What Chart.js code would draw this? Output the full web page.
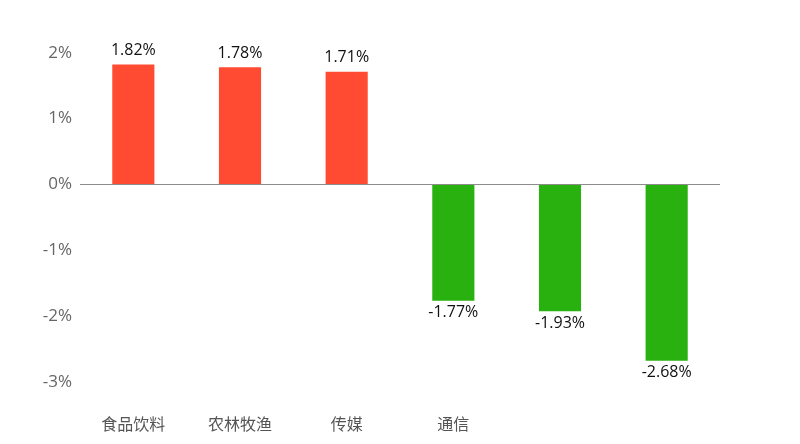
<!DOCTYPE html>
<html>
<head>
<meta charset="utf-8">
<script src="https://cdn.jsdelivr.net/npm/chart.js@4/dist/chart.umd.min.js"></script>
<style>
html,body{margin:0;padding:0;background:#fff;}
#wrap{width:800px;height:444px;}
</style>
</head>
<body>
<div id="wrap"><canvas id="c" width="800" height="444"></canvas></div>
<script>
const categories = ['食品饮料', '农林牧渔', '传媒', '通信', '', ''];
const values = [1.82, 1.78, 1.71, -1.77, -1.93, -2.68];
const yTicks = [2, 1, 0, -1, -2, -3];

const RED = '#ff4b31';
const GREEN = '#29b10f';
const FONT = '"Open Sans", "Noto Sans CJK SC", sans-serif';

const labelPlugin = {
  id: 'valueLabels',
  afterDatasetsDraw(chart) {
    const ctx = chart.ctx;
    const meta = chart.getDatasetMeta(0);
    ctx.save();
    ctx.font = '16px ' + FONT;
    ctx.fillStyle = '#111';
    ctx.textAlign = 'center';
    ctx.textBaseline = 'middle';
    meta.data.forEach((bar, i) => {
      const v = values[i];
      const txt = v.toFixed(2) + '%';
      const y = v >= 0 ? bar.y - 14 : bar.y + 12;
      ctx.fillText(txt, bar.x, y);
    });
    ctx.restore();
  }
};

const zeroLinePlugin = {
  id: 'zeroLine',
  afterDatasetsDraw(chart) {
    const ctx = chart.ctx;
    const ys = chart.scales.y;
    const a = chart.chartArea;
    const y0 = Math.round(ys.getPixelForValue(0)) + 0.5;
    ctx.save();
    ctx.strokeStyle = '#8c8c8c';
    ctx.lineWidth = 1.2;
    ctx.beginPath();
    ctx.moveTo(a.left, y0);
    ctx.lineTo(a.right, y0);
    ctx.stroke();
    ctx.restore();
  }
};

new Chart(document.getElementById('c'), {
  type: 'bar',
  data: {
    labels: categories,
    datasets: [{
      data: values,
      backgroundColor: values.map(v => v >= 0 ? RED : GREEN),
      borderWidth: 0,
      categoryPercentage: 1,
      barPercentage: 0.395
    }]
  },
  options: {
    responsive: false,
    animation: false,
    devicePixelRatio: 1,
    layout: { padding: { left: 0, right: 80, top: 52.7, bottom: 0 } },
    plugins: { legend: { display: false }, tooltip: { enabled: false } },
    scales: {
      x: {
        grid: { display: false, drawTicks: false },
        border: { display: false },
        ticks: { color: '#555', font: { size: 16, family: FONT }, padding: 34, autoSkip: false, maxRotation: 0 },
        afterFit(s) { s.height = 444 - 381.7; }
      },
      y: {
        min: -3, max: 2,
        afterBuildTicks(s) { s.ticks = yTicks.map(v => ({ value: v })); },
        grid: { display: false, drawTicks: false },
        border: { display: false },
        ticks: { color: '#666', font: { size: 17, family: FONT }, padding: 8, callback: v => v + '%' },
        afterFit(s) { s.width = 80; }
      }
    }
  },
  plugins: [labelPlugin, zeroLinePlugin]
});
</script>
</body>
</html>
